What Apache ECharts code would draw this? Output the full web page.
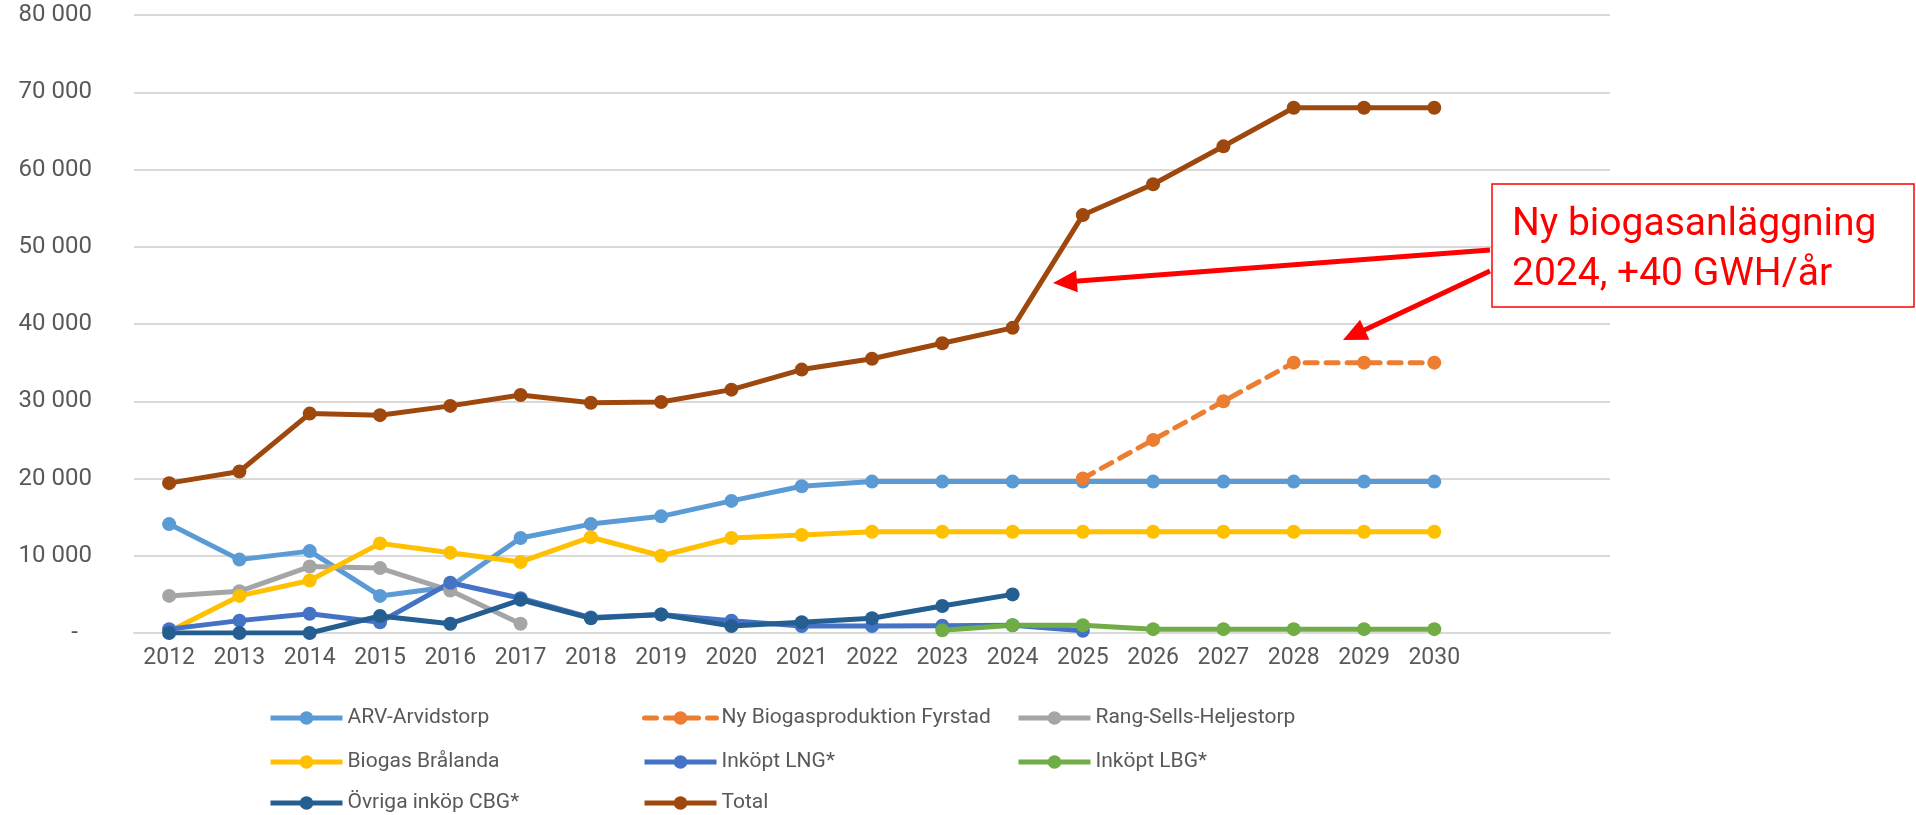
<!DOCTYPE html>
<html>
<head>
<meta charset="utf-8">
<script src="https://cdn.jsdelivr.net/npm/echarts@6/dist/echarts.min.js"></script>
<style>
html,body{margin:0;padding:0;background:#fff;}
#chart{width:1916px;height:815px;}
</style>
</head>
<body>
<div id="chart"></div>
<script>
const years = ['2012','2013','2014','2015','2016','2017','2018','2019','2020','2021','2022','2023','2024','2025','2026','2027','2028','2029','2030'];
const extraCats = ['', ''];
const arvArvidstorp = [14100, 9500, 10600, 4800, 6000, 12300, 14100, 15100, 17100, 19000, 19600, 19600, 19600, 19600, 19600, 19600, 19600, 19600, 19600];
const nyBiogasFyrstad = [null, null, null, null, null, null, null, null, null, null, null, null, null, 20000, 25000, 30000, 35000, 35000, 35000];
const rangSellsHeljestorp = [4800, 5400, 8600, 8400, 5500, 1200, null, null, null, null, null, null, null, null, null, null, null, null, null];
const biogasBralanda = [200, 4800, 6800, 11600, 10400, 9200, 12400, 10000, 12300, 12700, 13100, 13100, 13100, 13100, 13100, 13100, 13100, 13100, 13100];
const inkoptLNG = [500, 1600, 2500, 1400, 6500, 4500, 2000, 2400, 1600, 900, 900, 950, 1000, 300, null, null, null, null, null];
const inkoptLBG = [null, null, null, null, null, null, null, null, null, null, null, 350, 1000, 1000, 500, 500, 500, 500, 500];
const ovrigaCBG = [0, 0, 0, 2200, 1200, 4300, 1900, 2400, 900, 1400, 1900, 3500, 5000, null, null, null, null, null, null];
const total = [19400, 20900, 28400, 28200, 29400, 30800, 29800, 29900, 31500, 34100, 35500, 37500, 39500, 54100, 58100, 63000, 68000, 68000, 68000];
const yTicks = { min: 0, max: 80000, interval: 10000 };
const seriesNames = ['ARV-Arvidstorp', 'Ny Biogasproduktion Fyrstad', 'Rang-Sells-Heljestorp', 'Biogas Brålanda', 'Inköpt LNG*', 'Inköpt LBG*', 'Övriga inköp CBG*', 'Total'];
const annotationLines = ['Ny biogasanläggning', '2024, +40 GWH/år'];

const FONT = 'Roboto, "Liberation Sans", sans-serif';
const colors = ['#5B9BD5', '#ED7D31', '#A5A5A5', '#FFC000', '#4472C4', '#70AD47', '#255E91', '#9E480E'];
const seriesData = [arvArvidstorp, nyBiogasFyrstad, rangSellsHeljestorp, biogasBralanda, inkoptLNG, inkoptLBG, ovrigaCBG, total];

function fmt(v){
  if (v === 0) return '{z|-}';
  return String(v).replace(/\B(?=(\d{3})+(?!\d))/g, ' ');
}

const series = seriesNames.map((name, i) => ({
  name: name,
  type: 'line',
  data: seriesData[i],
  symbol: 'circle',
  symbolSize: 14,
  showSymbol: true,
  connectNulls: false,
  animation: false,
  lineStyle: { color: colors[i], width: 5, type: i === 1 ? [12, 9] : 'solid', cap: i === 1 ? 'round' : 'butt', join: 'round' },
  itemStyle: { color: colors[i], borderWidth: 0 },
  emphasis: { disabled: true }
}));

function arrowGraphic(x1, y1, x2, y2){
  const dx = x2 - x1, dy = y2 - y1;
  const len = Math.sqrt(dx*dx + dy*dy);
  const ux = dx/len, uy = dy/len;
  const head = 24, half = 11;
  const bx = x2 - ux*head, by = y2 - uy*head;
  const px = -uy, py = ux;
  return [
    { type: 'line', shape: { x1: x1, y1: y1, x2: bx + ux*2, y2: by + uy*2 }, style: { stroke: '#FF0000', lineWidth: 5 }, z: 100 },
    { type: 'polygon', shape: { points: [[x2, y2], [bx + px*half, by + py*half], [bx - px*half, by - py*half]] }, style: { fill: '#FF0000' }, z: 100 }
  ];
}

// legend grid: 3 columns, rows in order
const legendCols = [263, 637, 1011];
const legendRows = [701, 745, 786];
const legendOrder = [0, 1, 2, 3, 4, 5, 6, 7];
const legends = legendOrder.map((si, k) => ({
  orient: 'horizontal',
  left: legendCols[k % 3],
  top: legendRows[Math.floor(k / 3)],
  itemWidth: 72,
  itemHeight: 17,
  data: [seriesNames[si]],
  lineStyle: { width: 5 },
  textStyle: { color: '#595959', fontSize: 21, fontFamily: FONT, lineHeight: 24 },
  selectedMode: false
}));

const option = {
  backgroundColor: '#ffffff',
  animation: false,
  color: colors,
  grid: { left: 134, right: 306, top: 15, bottom: 182, containLabel: false },
  xAxis: {
    type: 'category',
    data: years.concat(extraCats),
    boundaryGap: true,
    axisLine: { show: true, lineStyle: { color: '#D9D9D9', width: 2 } },
    axisTick: { show: false },
    axisLabel: { color: '#595959', fontSize: 23, fontFamily: FONT, margin: 14, interval: 0 }
  },
  yAxis: {
    type: 'value',
    min: yTicks.min, max: yTicks.max, interval: yTicks.interval,
    axisLine: { show: false },
    axisTick: { show: false },
    splitLine: { lineStyle: { color: '#D9D9D9', width: 2 } },
    axisLabel: { color: '#595959', fontSize: 24, fontFamily: FONT, margin: 42, formatter: fmt,
      rich: { z: { color: '#595959', fontSize: 24, fontFamily: FONT, padding: [0, 14, 0, 0] } } }
  },
  legend: legends,
  series: series,
  graphic: [].concat(
    arrowGraphic(1490, 250, 1053, 283),
    arrowGraphic(1490, 271, 1343, 340),
    [
      { type: 'rect', shape: { x: 1492, y: 184, width: 422, height: 123 }, style: { fill: '#ffffff', stroke: '#FF0000', lineWidth: 1.5 }, z: 101 },
      { type: 'text', x: 1512, y: 200, z: 102, style: { text: annotationLines.join('\n'), fill: '#FF0000', fontSize: 39, fontFamily: FONT, lineHeight: 50 } }
    ]
  )
};

const chart = echarts.init(document.getElementById('chart'), null, { renderer: 'canvas' });
chart.setOption(option);
</script>
</body>
</html>
